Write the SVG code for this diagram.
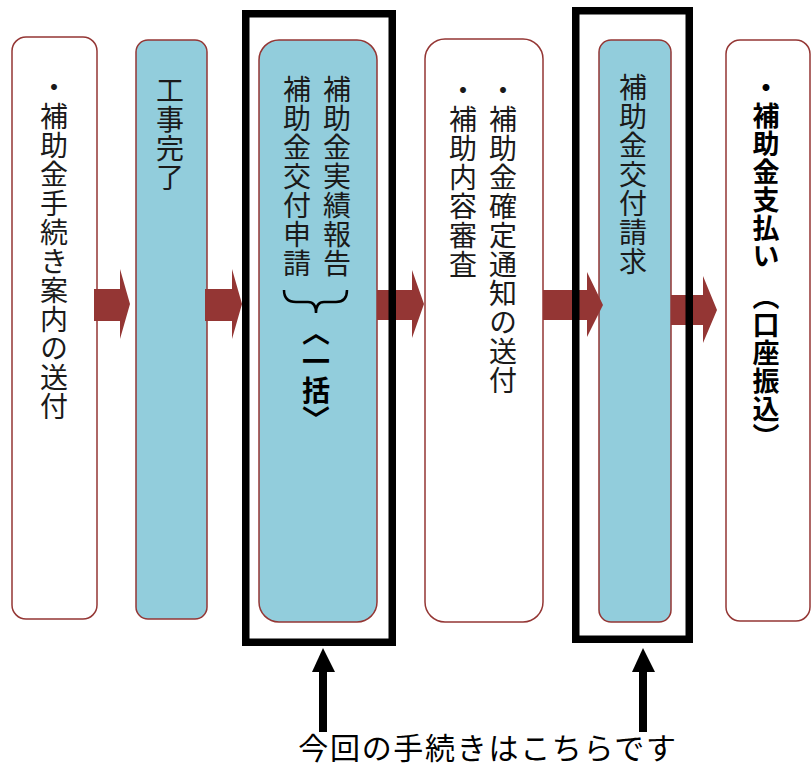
<svg xmlns="http://www.w3.org/2000/svg" width="811" height="769" viewBox="0 0 811 769">
<style>
.w{fill:#fff;stroke:#943634;stroke-width:1.5}
.b{fill:#92cddc;stroke:#943634;stroke-width:1.5}
.frame{fill:none;stroke:#000;stroke-width:7.5}
.arr{fill:#943634}
.up{fill:#000}
.v{font-family:"Noto Sans CJK JP","Noto Sans CJK SC",sans-serif;font-size:28px;writing-mode:vertical-rl;fill:#1a1a1a;letter-spacing:1px}
.vb{font-weight:bold;fill:#000}
.cap{font-family:"Noto Sans CJK JP","Noto Sans CJK SC",sans-serif;font-size:30px;fill:#000;letter-spacing:1.7px}
</style>
<rect width="811" height="769" fill="#fff"/>
<g id="node1">
<rect class="w" x="12" y="37" width="85" height="582" rx="14"/>
<text class="v" x="54" y="73">・補助金手続き案内の送付</text>
</g>
<g id="node2">
<rect class="b" x="136" y="40" width="71" height="579" rx="12"/>
<text class="v" x="170" y="76">工事完了</text>
</g>
<g id="node3">
<rect class="b" x="259" y="40" width="118" height="582" rx="20"/>
<text class="v" x="337" y="75">補助金実績報告</text>
<text class="v" x="297" y="75">補助金交付申請</text>
<path d="M284,290 Q284,302 296,302 L308,302 Q316,302 316,313 Q316,302 324,302 L336,302 Q347,302 347,290" fill="none" stroke="#000" stroke-width="2.5"/>
<text class="v vb" x="316" y="318">〈一括〉</text>
</g>
<g id="node4">
<rect class="w" x="425" y="39" width="118" height="583" rx="20"/>
<text class="v" x="503" y="76">・補助金確定通知の送付</text>
<text class="v" x="463" y="76">・補助内容審査</text>
</g>
<g id="node5">
<rect class="b" x="599" y="40" width="72" height="582" rx="12"/>
<text class="v" x="633" y="73">補助金交付請求</text>
</g>
<g id="node6">
<rect class="w" x="726" y="40" width="84" height="581" rx="14"/>
<text class="v vb" x="766" y="74" style="font-size:27px">・補助金支払い</text>
<text class="v vb" x="766" y="283" style="font-size:27px">（口座振込）</text>
</g>
<g id="connectors">
<polygon class="arr" points="94,289 120,289 120,269 130,304 120,339 120,321 94,321"/>
<polygon class="arr" points="205,289 232,289 232,269 242,304 232,339 232,321 205,321"/>
<polygon class="arr" points="377,290 412,290 412,270 424,304 412,338 412,320 377,320"/>
<polygon class="arr" points="543,290 587,290 587,272 603,305 587,337 587,320 543,320"/>
<polygon class="arr" points="671,295 703,295 703,276 717,310 703,343 703,325 671,325"/>
<rect class="up" x="319" y="670" width="8" height="62"/>
<polygon class="up" points="312,672 323,648 335,672"/>
<rect class="up" x="639" y="670" width="8" height="62"/>
<polygon class="up" points="632,672 643,648 655,672"/>
</g>
<g id="highlight1">
<rect class="frame" x="245.75" y="13.75" width="146.5" height="628.5"/>
</g>
<g id="highlight2">
<rect class="frame" x="575.75" y="10.75" width="113.5" height="628.5"/>
</g>
<g id="caption">
<text class="cap" x="488" y="759" text-anchor="middle">今回の手続きはこちらです</text>
</g>
</svg>
